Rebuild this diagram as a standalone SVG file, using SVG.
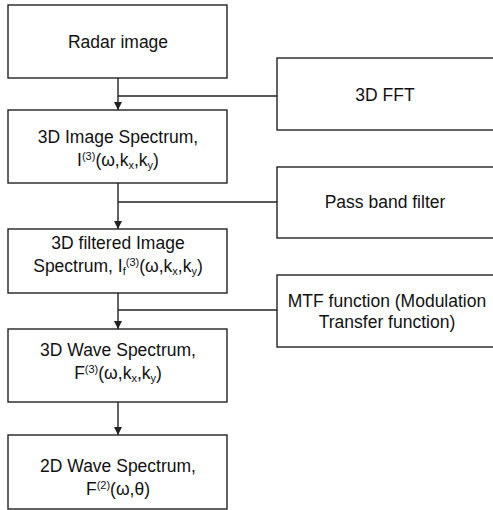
<svg xmlns="http://www.w3.org/2000/svg" width="493" height="510" viewBox="0 0 493 510">
<defs>
<style>
.box{fill:#fff;stroke:#222;stroke-width:1.4}
.ln{fill:none;stroke:#222;stroke-width:1.4}
text{font-family:"Liberation Sans",Arial,sans-serif;font-size:17.5px;fill:#111;text-anchor:middle}
.s{font-size:11px}
</style>
<marker id="ah" viewBox="0 0 10 10" refX="10" refY="5" markerWidth="8" markerHeight="8" markerUnits="userSpaceOnUse" orient="auto">
<path d="M0,0 L10,5 L0,10 z" fill="#222"/>
</marker>
</defs>
<rect width="493" height="510" fill="#fff"/>
<g id="connectors">
<line class="ln" x1="118" y1="78" x2="118" y2="110" marker-end="url(#ah)"/>
<line class="ln" x1="118" y1="183" x2="118" y2="229" marker-end="url(#ah)"/>
<line class="ln" x1="118" y1="293" x2="118" y2="329" marker-end="url(#ah)"/>
<line class="ln" x1="118" y1="402" x2="118" y2="435" marker-end="url(#ah)"/>
<line class="ln" x1="118" y1="96" x2="277" y2="96"/>
<line class="ln" x1="118" y1="202" x2="277" y2="202"/>
<line class="ln" x1="118" y1="310" x2="277" y2="310"/>
</g>
<g id="radar-image">
<rect class="box" x="8" y="5" width="219" height="73"/>
<text x="118" y="48">Radar image</text>
</g>
<g id="image-spectrum">
<rect class="box" x="8" y="110" width="219" height="73"/>
<text x="118" y="143">3D Image Spectrum,</text>
<text x="118" y="166">I<tspan class="s" dy="-6">(3)</tspan><tspan dy="6">(ω,k</tspan><tspan class="s" dy="3">x</tspan><tspan dy="-3">,k</tspan><tspan class="s" dy="3">y</tspan><tspan dy="-3">)</tspan></text>
</g>
<g id="filtered-spectrum">
<rect class="box" x="8" y="229" width="219" height="64"/>
<text x="118" y="249">3D filtered Image</text>
<text x="118" y="272">Spectrum, I<tspan class="s" dy="3">f</tspan><tspan class="s" dy="-9">(3)</tspan><tspan dy="6">(ω,k</tspan><tspan class="s" dy="3">x</tspan><tspan dy="-3">,k</tspan><tspan class="s" dy="3">y</tspan><tspan dy="-3">)</tspan></text>
</g>
<g id="wave-spectrum-3d">
<rect class="box" x="8" y="329" width="219" height="73"/>
<text x="118" y="356">3D Wave Spectrum,</text>
<text x="118" y="379">F<tspan class="s" dy="-6">(3)</tspan><tspan dy="6">(ω,k</tspan><tspan class="s" dy="3">x</tspan><tspan dy="-3">,k</tspan><tspan class="s" dy="3">y</tspan><tspan dy="-3">)</tspan></text>
</g>
<g id="wave-spectrum-2d">
<rect class="box" x="8" y="435" width="219" height="74"/>
<text x="118" y="472">2D Wave Spectrum,</text>
<text x="118" y="495">F<tspan class="s" dy="-6">(2)</tspan><tspan dy="6">(ω,θ)</tspan></text>
</g>
<g id="fft">
<rect class="box" x="277" y="58" width="220" height="72"/>
<text x="385" y="101">3D FFT</text>
</g>
<g id="pass-band">
<rect class="box" x="277" y="167" width="220" height="71"/>
<text x="385" y="208">Pass band filter</text>
</g>
<g id="mtf">
<rect class="box" x="277" y="275" width="220" height="72"/>
<text x="387" y="307">MTF function (Modulation</text>
<text x="387" y="328">Transfer function)</text>
</g>
</svg>
